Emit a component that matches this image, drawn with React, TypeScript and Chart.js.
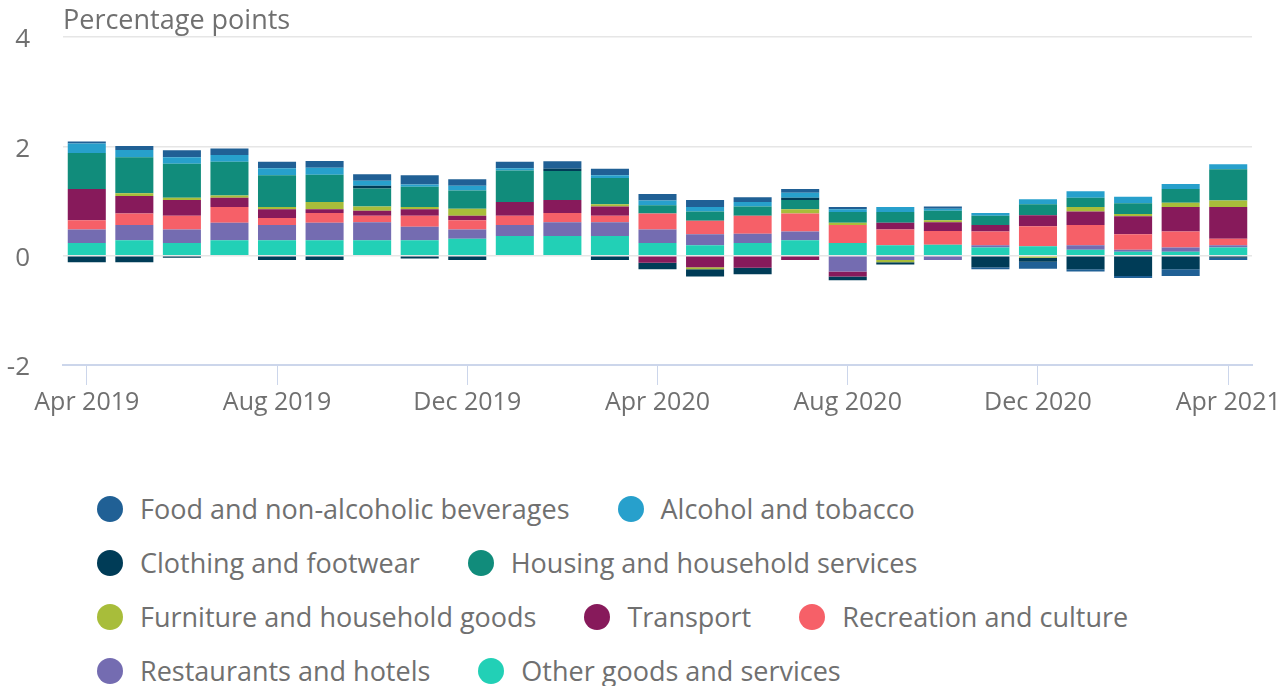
import React, { useEffect, useRef } from 'react';
import { Chart, registerables } from 'chart.js';

Chart.register(...registerables);

const categories = [
  'Apr 2019', 'May 2019', 'Jun 2019', 'Jul 2019', 'Aug 2019', 'Sep 2019', 'Oct 2019', 'Nov 2019',
  'Dec 2019', 'Jan 2020', 'Feb 2020', 'Mar 2020', 'Apr 2020', 'May 2020', 'Jun 2020', 'Jul 2020',
  'Aug 2020', 'Sep 2020', 'Oct 2020', 'Nov 2020', 'Dec 2020', 'Jan 2021', 'Feb 2021', 'Mar 2021',
  'Apr 2021',
];

const seriesNames = [
  'Food and non-alcoholic beverages',
  'Alcohol and tobacco',
  'Clothing and footwear',
  'Housing and household services',
  'Furniture and household goods',
  'Transport',
  'Recreation and culture',
  'Restaurants and hotels',
  'Other goods and services',
];

const seriesColors = [
  '#206095', '#27a0cc', '#003c57', '#118c7b', '#a8bd3a', '#871a5b', '#f66068', '#746cb1', '#22d0b6',
];

const food = [0.04, 0.07, 0.13, 0.12, 0.12, 0.12, 0.12, 0.17, 0.12, 0.12, 0.135, 0.12, 0.12, 0.13, 0.09, 0.07, 0.04, 0, 0.04, -0.04, -0.13, -0.04, -0.04, -0.12, -0.04];
const alcohol = [0.17, 0.135, 0.12, 0.12, 0.13, 0.13, 0.09, 0.04, 0.09, 0.04, 0, 0.05, 0.09, 0.08, 0.08, 0.09, 0.05, 0.09, 0.04, 0.05, 0.09, 0.12, 0.12, 0.09, 0.09];
const clothing = [-0.12, -0.12, -0.04, 0, -0.08, -0.08, 0.05, -0.05, -0.08, 0, 0.04, -0.08, -0.12, -0.13, -0.12, 0.04, -0.07, -0.04, 0, -0.21, -0.07, -0.25, -0.37, -0.25, -0.04];
const housing = [0.66, 0.66, 0.62, 0.62, 0.58, 0.5, 0.33, 0.37, 0.33, 0.58, 0.53, 0.48, 0.15, 0.17, 0.17, 0.17, 0.2, 0.2, 0.17, 0.17, 0.2, 0.17, 0.2, 0.25, 0.57];
const furniture = [0, 0.05, 0.04, 0.04, 0.04, 0.13, 0.08, 0.04, 0.13, 0, 0, 0.04, 0, -0.04, 0, 0.08, 0.04, -0.04, 0.04, 0, -0.04, 0.08, 0.04, 0.08, 0.12];
const transport = [0.57, 0.32, 0.29, 0.17, 0.16, 0.07, 0.09, 0.12, 0.08, 0.25, 0.24, 0.17, -0.13, -0.21, -0.22, -0.08, -0.09, 0.12, 0.16, 0.12, 0.2, 0.25, 0.33, 0.45, 0.58];
const recreation = [0.17, 0.21, 0.25, 0.29, 0.13, 0.18, 0.12, 0.2, 0.17, 0.17, 0.17, 0.12, 0.29, 0.25, 0.33, 0.33, 0.33, 0.29, 0.25, 0.25, 0.37, 0.37, 0.28, 0.29, 0.12];
const restaurants = [0.25, 0.28, 0.25, 0.32, 0.28, 0.32, 0.33, 0.25, 0.17, 0.2, 0.25, 0.25, 0.25, 0.2, 0.17, 0.16, -0.29, -0.08, -0.08, 0.04, 0, 0.08, 0.04, 0.08, 0.04];
const other = [0.23, 0.28, 0.23, 0.28, 0.28, 0.28, 0.28, 0.28, 0.31, 0.36, 0.36, 0.36, 0.23, 0.19, 0.23, 0.28, 0.23, 0.19, 0.2, 0.15, 0.17, 0.11, 0.07, 0.07, 0.15];

const yTicks = [-2, 0, 2, 4];
const axisTitle = 'Percentage points';

const FONT = "'Open Sans', sans-serif";
const TEXT = '#707070';

export default function App() {
  const ref = useRef<HTMLCanvasElement>(null);

  useEffect(() => {
    const seriesValues = [food, alcohol, clothing, housing, furniture, transport, recreation, restaurants, other];
    const datasets = seriesNames
      .map((name, i) => ({
        label: name,
        data: seriesValues[i],
        backgroundColor: seriesColors[i],
        borderWidth: 0,
      }))
      .reverse();

    const titlePlugin = {
      id: 'unitTitle',
      afterDraw(chart: any) {
        const ctx = chart.ctx;
        ctx.save();
        ctx.font = `27px ${FONT}`;
        ctx.fillStyle = TEXT;
        ctx.textBaseline = 'middle';
        ctx.textAlign = 'left';
        ctx.fillText(axisTitle, chart.chartArea.left, 21);
        ctx.restore();
      },
    };

    const chart = new Chart(ref.current as HTMLCanvasElement, {
      type: 'bar',
      data: { labels: categories, datasets: datasets as any },
      options: {
        animation: false,
        responsive: true,
        maintainAspectRatio: false,
        layout: { padding: { top: 37, right: 33, bottom: 0, left: 0 } },
        plugins: {
          legend: { display: false },
          tooltip: { enabled: false },
          title: { display: false },
        },
        datasets: { bar: { categoryPercentage: 1, barPercentage: 0.8 } } as any,
        scales: {
          x: {
            stacked: true,
            offset: true,
            grid: {
              offset: false,
              drawOnChartArea: false,
              drawTicks: true,
              tickLength: 20,
              lineWidth: 1,
              color: (c: any) => (c.index % 4 === 0 ? '#ccd6eb' : 'rgba(0,0,0,0)'),
            },
            border: { color: '#ccd6eb', width: 2 },
            ticks: {
              autoSkip: false,
              maxRotation: 0,
              minRotation: 0,
              padding: 3,
              color: TEXT,
              font: { size: 25, family: FONT },
              callback: (_v: any, i: number) => (i % 4 === 0 ? categories[i] : ''),
            },
            afterFit: (s: any) => {
              s.height = 55;
            },
          },
          y: {
            stacked: true,
            min: yTicks[0],
            max: yTicks[yTicks.length - 1],
            afterBuildTicks: (s: any) => {
              s.ticks = yTicks.map((v) => ({ value: v }));
            },
            ticks: {
              stepSize: 2,
              padding: 33,
              labelOffset: 3,
              color: TEXT,
              font: { size: 26, family: FONT },
            },
            grid: {
              drawTicks: false,
              lineWidth: 1.5,
              color: (c: any) => (c.tick && c.tick.value === -2 ? '#ccd6eb' : '#e6e6e6'),
            },
            border: { display: false },
            afterFit: (s: any) => {
              s.width = 63;
              s.paddingTop = 0;
              s.paddingBottom = 0;
            },
          },
        },
      } as any,
      plugins: [titlePlugin],
    });
    return () => chart.destroy();
  }, []);

  return (
    <div
      style={{
        position: 'fixed',
        left: 0,
        top: 0,
        width: 1285,
        height: 686,
        overflow: 'hidden',
        background: '#fff',
        fontFamily: FONT,
      }}
    >
      <div style={{ position: 'relative', width: 1285, height: 420 }}>
        <canvas ref={ref} />
      </div>
      <div
        style={{
          display: 'flex',
          flexWrap: 'wrap',
          width: 1060,
          marginLeft: 97,
          paddingTop: 62,
          columnGap: 48,
        }}
      >
        {seriesNames.map((name, i) => (
          <div
            key={name}
            style={{ display: 'flex', alignItems: 'center', height: 54, whiteSpace: 'nowrap' }}
          >
            <span
              style={{
                display: 'inline-block',
                width: 26,
                height: 26,
                borderRadius: '50%',
                background: seriesColors[i],
                marginRight: 17,
              }}
            />
            <span style={{ fontSize: 27, color: TEXT, lineHeight: '54px' }}>{name}</span>
          </div>
        ))}
      </div>
    </div>
  );
}
